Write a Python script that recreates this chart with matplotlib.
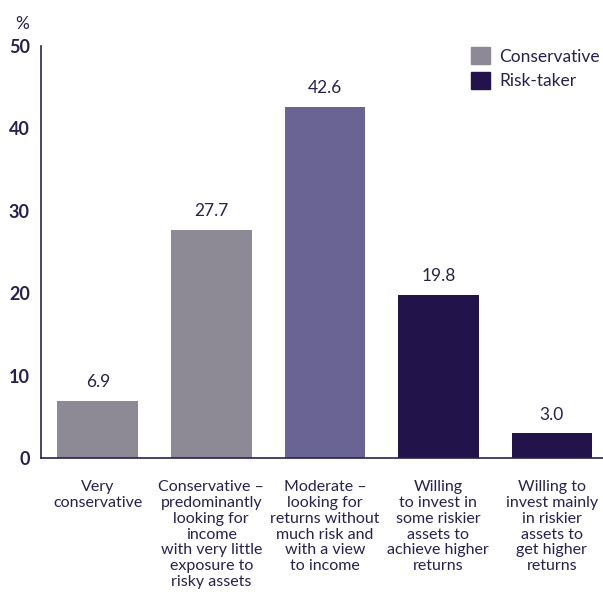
import matplotlib.pyplot as plt
from matplotlib.patches import Patch

plt.rcParams['font.family'] = ['Lato', 'DejaVu Sans']

# investor profile shares, %
categorias = ['Very\nconservative',
              'Conservative –\npredominantly\nlooking for\nincome\nwith very little\nexposure to\nrisky assets',
              'Moderate –\nlooking for\nreturns without\nmuch risk and\nwith a view\nto income',
              'Willing\nto invest in\nsome riskier\nassets to\nachieve higher\nreturns',
              'Willing to\ninvest mainly\nin riskier\nassets to\nget higher\nreturns']
valores = [6.9, 27.7, 42.6, 19.8, 3.0]
cores = ['#8d8995', '#8d8995', '#6a6494', '#22144a', '#22144a']
ticks_y = [0, 10, 20, 30, 40, 50]

texto = '#2a2050'

fig = plt.figure(figsize=(6.03, 5.94), dpi=100)
ax = fig.add_axes([41/603, 136/594, 562/603, 412/594])

x = range(len(valores))
barras = ax.bar(x, valores, width=0.71, color=cores)
for xi, v in zip(x, valores):
    ax.text(xi, v + 1.3, f'{v:.1f}', ha='center', va='bottom', fontsize=12.5, color=texto)

ax.set_xlim(-0.5, 4.45)
ax.set_ylim(0, 50)
ax.set_yticks(ticks_y)
ax.set_yticklabels([str(t) for t in ticks_y], fontsize=13, fontweight='bold', color=texto)
ax.set_xticks(list(x))
ax.set_xticklabels(categorias, fontsize=11.5, color=texto, linespacing=1.16, va='top')
ax.tick_params(axis='both', length=0)
ax.tick_params(axis='x', pad=16)
ax.tick_params(axis='y', pad=8)
for lado in ['top', 'right']:
    ax.spines[lado].set_visible(False)
ax.spines['left'].set_color(texto)
ax.spines['bottom'].set_color(texto)
ax.spines['left'].set_linewidth(1.2)
ax.spines['bottom'].set_linewidth(1.2)

fig.text(0.037, 0.96, '%', fontsize=12.5, color=texto, ha='center', va='center')

leg = ax.legend(handles=[Patch(color='#8d8995', label='Conservative'),
                         Patch(color='#22144a', label='Risk-taker')],
                loc='upper right', bbox_to_anchor=(1.022, 1.035), frameon=False,
                fontsize=12.5, handlelength=1.1, handleheight=1.15, handletextpad=0.5,
                labelspacing=0.4)
for t in leg.get_texts():
    t.set_color(texto)

fig.savefig('out.png', dpi=100)
